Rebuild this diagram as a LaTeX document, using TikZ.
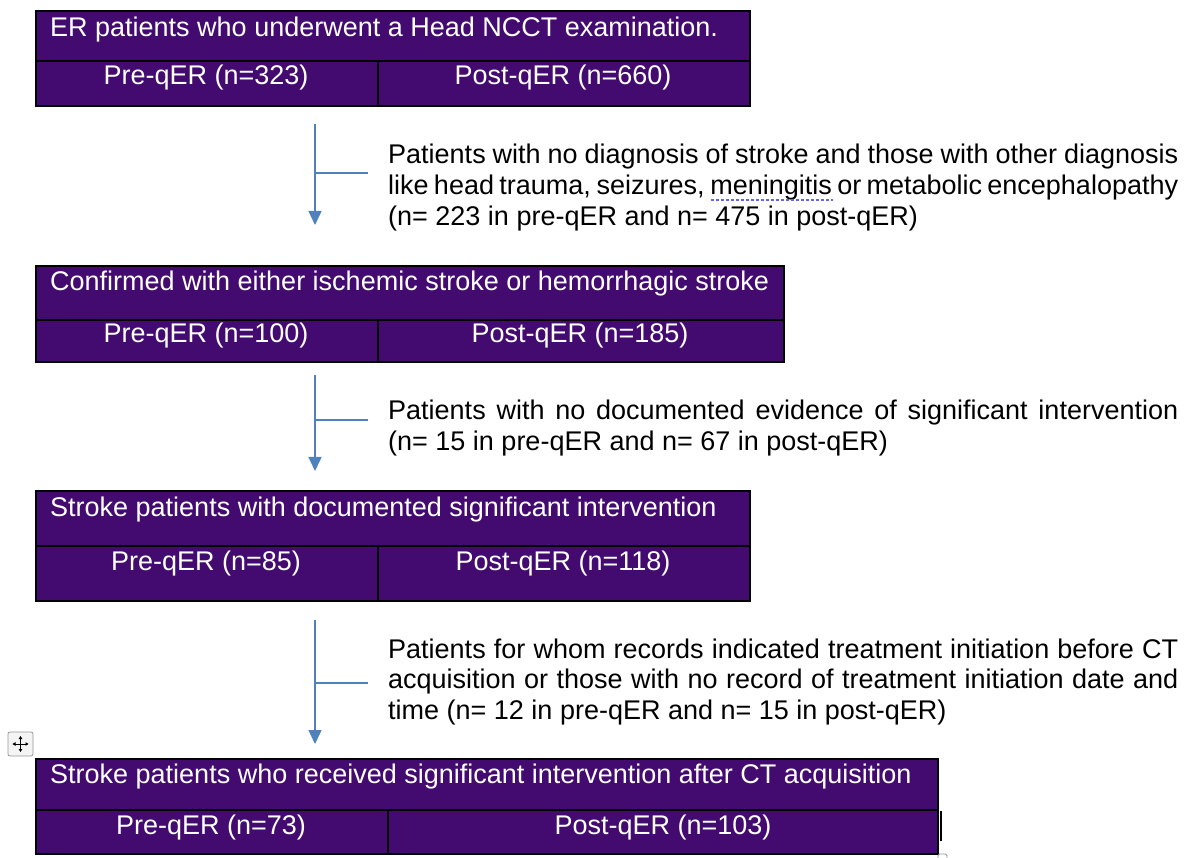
\documentclass[tikz,border=0pt]{standalone}
\usepackage{fontspec}
\setmainfont{Liberation Sans}
\usetikzlibrary{arrows.meta}
\definecolor{boxpurple}{RGB}{67,10,112}
\definecolor{flowblue}{RGB}{79,129,189}
\definecolor{spellblue}{RGB}{100,100,235}
\definecolor{iconfill}{RGB}{244,244,244}
\definecolor{icongray}{RGB}{150,150,150}
\tikzset{
  cellbox/.style={draw=black, line width=1.6pt, fill=boxpurple, inner sep=0pt, anchor=north west},
  celltext/.style={text=white, inner sep=0pt, font=\fontsize{27}{31}\selectfont},
  sidetext/.style={text=black, inner sep=0pt, anchor=base west, font=\fontsize{27}{31}\selectfont},
  flowarrow/.style={draw=flowblue, line width=1.5pt, -{Triangle[length=14pt,width=13pt]}},
  flowside/.style={draw=flowblue, line width=1.5pt},
}
\newcommand{\jline}[1]{\makebox[790pt][s]{#1}}
\begin{document}
\begin{tikzpicture}[x=1pt,y=-1pt]
\useasboundingbox (0,0) rectangle (1184,858);
% ---------- Box 1 ----------
\node[cellbox, minimum width=714pt, minimum height=50pt] (h1) at (35,10) {};
\node[cellbox, minimum width=342pt, minimum height=45pt] (l1) at (35,60) {};
\node[cellbox, minimum width=372pt, minimum height=45pt] (r1) at (377,60) {};
\node[celltext, anchor=base west] (h1t) at (50,36.5) {ER patients who underwent a Head NCCT examination.};
\node[celltext, anchor=base] (l1t) at (206,85) {Pre-qER (n=323)};
\node[celltext, anchor=base] (r1t) at (563,85) {Post-qER (n=660)};
% ---------- Box 2 ----------
\node[cellbox, minimum width=748pt, minimum height=54pt] (h2) at (35,265) {};
\node[cellbox, minimum width=342pt, minimum height=42pt] (l2) at (35,319) {};
\node[cellbox, minimum width=406pt, minimum height=42pt] (r2) at (377,319) {};
\node[celltext, anchor=base west] (h2t) at (50,290.5) {Confirmed with either ischemic stroke or hemorrhagic stroke};
\node[celltext, anchor=base] (l2t) at (206,343) {Pre-qER (n=100)};
\node[celltext, anchor=base] (r2t) at (580,343) {Post-qER (n=185)};
% ---------- Box 3 ----------
\node[cellbox, minimum width=714pt, minimum height=55pt] (h3) at (35,490) {};
\node[cellbox, minimum width=342pt, minimum height=55pt] (l3) at (35,545) {};
\node[cellbox, minimum width=372pt, minimum height=55pt] (r3) at (377,545) {};
\node[celltext, anchor=base west] (h3t) at (50,516.5) {Stroke patients with documented significant intervention};
\node[celltext, anchor=base] (l3t) at (206,570) {Pre-qER (n=85)};
\node[celltext, anchor=base] (r3t) at (563,570) {Post-qER (n=118)};
% ---------- Box 4 ----------
\node[cellbox, minimum width=902pt, minimum height=51pt] (h4) at (35,758) {};
\node[cellbox, minimum width=352pt, minimum height=44pt] (l4) at (35,809) {};
\node[cellbox, minimum width=550pt, minimum height=44pt] (r4) at (387,809) {};
\node[celltext, anchor=base west] (h4t) at (50,783.5) {Stroke patients who received significant intervention after CT acquisition};
\node[celltext, anchor=base] (l4t) at (211,834) {Pre-qER (n=73)};
\node[celltext, anchor=base] (r4t) at (663,834) {Post-qER (n=103)};
% ---------- Arrows ----------
\coordinate (a1s) at (315,124); \coordinate (a1e) at (315,225);
\coordinate (a1b) at (315,173); \coordinate (a1r) at (368,173);
\draw[flowarrow] (a1s) -- (a1e);
\draw[flowside] (a1b) -- (a1r);
\coordinate (a2s) at (315,375); \coordinate (a2e) at (315,471);
\coordinate (a2b) at (315,420); \coordinate (a2r) at (368,420);
\draw[flowarrow] (a2s) -- (a2e);
\draw[flowside] (a2b) -- (a2r);
\coordinate (a3s) at (315,620); \coordinate (a3e) at (315,744);
\coordinate (a3b) at (315,683); \coordinate (a3r) at (368,683);
\draw[flowarrow] (a3s) -- (a3e);
\draw[flowside] (a3b) -- (a3r);
% ---------- Side texts ----------
\node[sidetext] (p1a) at (388,164) {\jline{Patients with no diagnosis of stroke and those with other diagnosis}};
\node[sidetext] (p1b) at (388,195) {\jline{like head trauma, seizures, meningitis or metabolic encephalopathy}};
\node[sidetext] (p1c) at (388,225.5) {(n= 223 in pre-qER and n= 475 in post-qER)};
\draw[spellblue, line width=1.3pt, dash pattern=on 3pt off 2pt] (711,200) -- (833,200);
\node[sidetext] (p2a) at (388,420) {\jline{Patients with no documented evidence of significant intervention}};
\node[sidetext] (p2b) at (388,450.5) {(n= 15 in pre-qER and n= 67 in post-qER)};
\node[sidetext] (p3a) at (388,658) {\jline{Patients for whom records indicated treatment initiation before CT}};
\node[sidetext] (p3b) at (388,688.5) {\jline{acquisition or those with no record of treatment initiation date and}};
\node[sidetext] (p3c) at (388,719) {time (n= 12 in pre-qER and n= 15 in post-qER)};
% ---------- UI marks ----------
\node[draw=icongray, fill=iconfill, rounded corners=2pt, line width=0.8pt, minimum width=25pt, minimum height=24pt, inner sep=0pt] (icon) at (20.5,744) {};
\draw[line width=0.8pt, -{Triangle[length=3pt,width=3.5pt]}] (icon.center) -- ++(0,-8);
\draw[line width=0.8pt, -{Triangle[length=3pt,width=3.5pt]}] (icon.center) -- ++(0,8);
\draw[line width=0.8pt, -{Triangle[length=3pt,width=3.5pt]}] (icon.center) -- ++(-8,0);
\draw[line width=0.8pt, -{Triangle[length=3pt,width=3.5pt]}] (icon.center) -- ++(8,0);
\coordinate (cur1) at (941,811); \coordinate (cur2) at (941,841);
\draw[black, line width=2pt] (cur1) -- (cur2);
\draw[icongray, line width=0.8pt, rounded corners=1.5pt] (938,862) rectangle (947,854);
\end{tikzpicture}
\end{document}
